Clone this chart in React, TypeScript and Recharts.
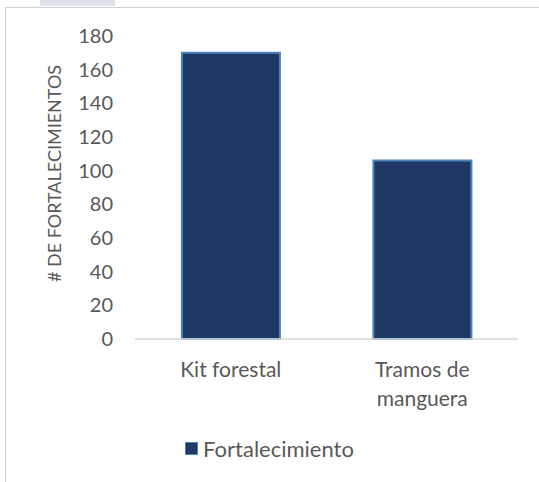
import React from 'react';
import { BarChart, Bar, XAxis, YAxis, Label } from 'recharts';

const categories = ['Kit forestal', 'Tramos de manguera'];
const fortalecimiento = [170, 106];
const yTicks = [0, 20, 40, 60, 80, 100, 120, 140, 160, 180];
const yTitle = '# DE FORTALECIMIENTOS';
const seriesName = 'Fortalecimiento';

const data = categories.map((name, i) => ({ name, value: fortalecimiento[i] }));

const FONT = 'Lato, "Open Sans", sans-serif';
const GRAY = '#595959';

function WrapTick(props: any) {
    const { x, y, payload } = props;
    const words = String(payload.value).split(' ');
    const lines: string[] = [];
    let cur = '';
    words.forEach(w => {
        const next = cur ? cur + ' ' + w : w;
        if (next.length > 12 && cur) {
            lines.push(cur);
            cur = w;
        } else {
            cur = next;
        }
    });
    if (cur) lines.push(cur);
    return (
        <text x={x} y={y} textAnchor="middle" fill={GRAY} fontSize={21} fontFamily={FONT}>
            {lines.map((l, i) => (
                <tspan key={i} x={x} dy={i === 0 ? 30 : 29}>{l}</tspan>
            ))}
        </text>
    );
}

function YTitle(props: any) {
    const { viewBox } = props;
    const cx = 54;
    const cy = viewBox.y + viewBox.height / 2 - 14;
    return (
        <text
            x={cx}
            y={cy}
            transform={`rotate(-90, ${cx}, ${cy})`}
            textAnchor="middle"
            dominantBaseline="central"
            fill={GRAY}
            fontSize={18}
            fontFamily={FONT}
        >
            {yTitle}
        </text>
    );
}

export default function App() {
    return (
        <div style={{ position: 'absolute', left: 0, top: 0, width: 539, height: 482, background: '#fff', overflow: 'hidden' }}>
            <div style={{ position: 'absolute', left: 5, top: 7, width: 560, height: 500, borderLeft: '1px solid #d0d0d0', borderTop: '1px solid #d0d0d0' }} />
            <div style={{ position: 'absolute', left: 40, top: 0, width: 75, height: 6, background: '#dfe3ec' }} />
            <BarChart
                width={539}
                height={482}
                data={data}
                margin={{ top: 36, right: 21, bottom: 113, left: 95 }}
                barCategoryGap="24.5%"
            >
                <XAxis
                    dataKey="name"
                    height={30}
                    axisLine={{ stroke: '#d9d9d9', strokeWidth: 1.5 }}
                    tickLine={false}
                    tick={<WrapTick />}
                    interval={0}
                />
                <YAxis
                    width={40}
                    domain={[0, 180]}
                    ticks={yTicks}
                    axisLine={false}
                    tickLine={false}
                    tickSize={0}
                    tickMargin={22}
                    tick={{ fill: GRAY, fontSize: 20, fontFamily: FONT }}
                >
                    <Label content={<YTitle />} />
                </YAxis>
                <Bar
                    dataKey="value"
                    name={seriesName}
                    fill="#1f3864"
                    stroke="#4f81bd"
                    strokeWidth={2}
                    isAnimationActive={false}
                />
            </BarChart>
            <div style={{ position: 'absolute', left: 0, top: 435, width: 539, display: 'flex', justifyContent: 'center', alignItems: 'center', fontFamily: FONT, fontSize: 22, color: GRAY }}>
                <span style={{ display: 'inline-block', width: 11, height: 11, background: '#1f3864', border: '1.5px solid #4f81bd', marginRight: 5 }} />
                {seriesName}
            </div>
        </div>
    );
}
